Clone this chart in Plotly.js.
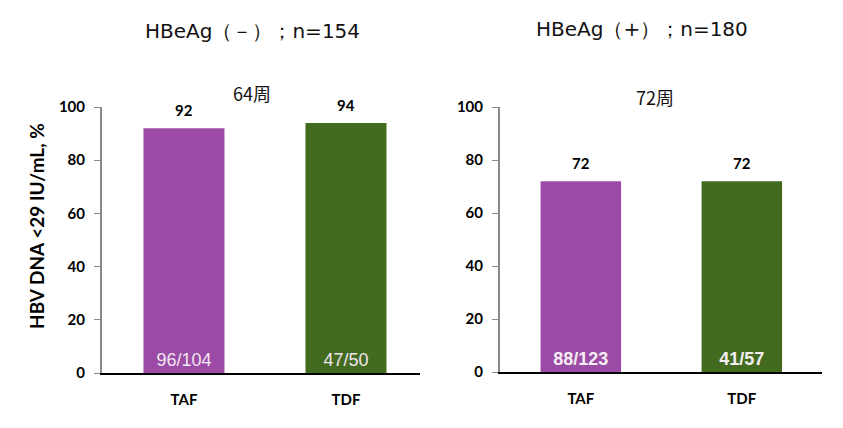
<!DOCTYPE html>
<html><head><meta charset="utf-8">
<script src="https://cdn.plot.ly/plotly-3.0.1.min.js"></script>
<style>html,body{margin:0;padding:0;background:#fff;}#chart{width:843px;height:428px;}</style>
</head><body><div id="chart"></div>
<script>
const categories = ["TAF", "TDF"];
const negValues = [92, 94];
const negCounts = ["96/104", "47/50"];
const posValues = [72, 72];
const posCounts = ["88/123", "41/57"];
const barColors = ["#9B4BA5", "#426B1F"];
const yTicks = [0, 20, 40, 60, 80, 100];
const panelTitles = ["HBeAg（－）；n=154", "HBeAg（+）；n=180"];
const weekLabels = ["64周", "72周"];
const yTitle = "HBV DNA <29 IU/mL, %";

const lblFont = {family: "Lato, 'Open Sans', sans-serif", size: 15, color: "#000", weight: "bold"};

const traces = [
  {type: "bar", x: categories, y: negValues, text: negCounts, xaxis: "x", yaxis: "y",
   marker: {color: barColors}, width: 0.5, textposition: "inside", insidetextanchor: "start",
   textfont: {family: "'Liberation Sans', Arial, sans-serif", size: 18, color: "#f0e6f0"},
   hoverinfo: "none", cliponaxis: false},
  {type: "bar", x: categories, y: posValues, text: posCounts, xaxis: "x2", yaxis: "y2",
   marker: {color: barColors}, width: 0.5, textposition: "inside", insidetextanchor: "start",
   textfont: {family: "'Liberation Sans', Arial, sans-serif", size: 18, color: "#f4eef4", weight: "bold"},
   hoverinfo: "none", cliponaxis: false}
];

const annotations = [];
negValues.forEach((v, i) => annotations.push({x: categories[i], y: v, xref: "x", yref: "y", text: String(v),
  showarrow: false, xanchor: "center", yanchor: "bottom", yshift: 7, font: lblFont}));
posValues.forEach((v, i) => annotations.push({x: categories[i], y: v, xref: "x2", yref: "y2", text: String(v),
  showarrow: false, xanchor: "center", yanchor: "bottom", yshift: 7, font: lblFont}));
const px = (x, y) => ({x: x / 843, y: 1 - y / 428, xref: "paper", yref: "paper", xanchor: "center", yanchor: "middle", showarrow: false});
annotations.push(Object.assign(px(253, 31), {text: panelTitles[0],
  font: {family: "'DejaVu Sans', sans-serif", size: 20, color: "#111"}}));
annotations.push(Object.assign(px(642, 29), {text: panelTitles[1],
  font: {family: "'DejaVu Sans', sans-serif", size: 20, color: "#111"}}));
annotations.push(Object.assign(px(252, 93), {text: weekLabels[0],
  font: {family: "'Noto Sans CJK SC', sans-serif", size: 18, color: "#111"}}));
annotations.push(Object.assign(px(655, 97), {text: weekLabels[1],
  font: {family: "'Noto Sans CJK SC', sans-serif", size: 18, color: "#111"}}));
annotations.push(Object.assign(px(36, 226), {text: yTitle, textangle: -90,
  font: {family: "Lato, 'Open Sans', sans-serif", size: 19, color: "#000", weight: "bold"}}));

const yBase = {range: [0, 100], tickvals: yTicks, showgrid: false, zeroline: false, showline: true,
  linecolor: "#888", linewidth: 2, ticks: "outside", ticklen: 6, tickcolor: "#888", tickwidth: 1,
  tickfont: lblFont, ticklabelstandoff: 6, fixedrange: true};
const xBase = {showgrid: false, zeroline: false, showline: true, linecolor: "#000", linewidth: 2,
  ticks: "", tickfont: lblFont, ticklabelstandoff: 12, type: "category", fixedrange: true};

const layout = {
  width: 843, height: 428, margin: {l: 0, r: 0, t: 0, b: 0},
  paper_bgcolor: "#fff", plot_bgcolor: "#fff", showlegend: false, bargap: 0.5,
  xaxis: Object.assign({}, xBase, {domain: [102/843, 420/843], range: [-0.506, 1.457], anchor: "y"}),
  xaxis2: Object.assign({}, xBase, {domain: [500/843, 822/843], range: [-0.502, 1.498], anchor: "y2"}),
  yaxis: Object.assign({}, yBase, {domain: [1 - 373/428, 1 - 107/428], anchor: "x"}),
  yaxis2: Object.assign({}, yBase, {domain: [1 - 372/428, 1 - 107/428], anchor: "x2"}),
  annotations: annotations
};

Plotly.newPlot("chart", traces, layout, {displayModeBar: false, staticPlot: true});
</script></body></html>
